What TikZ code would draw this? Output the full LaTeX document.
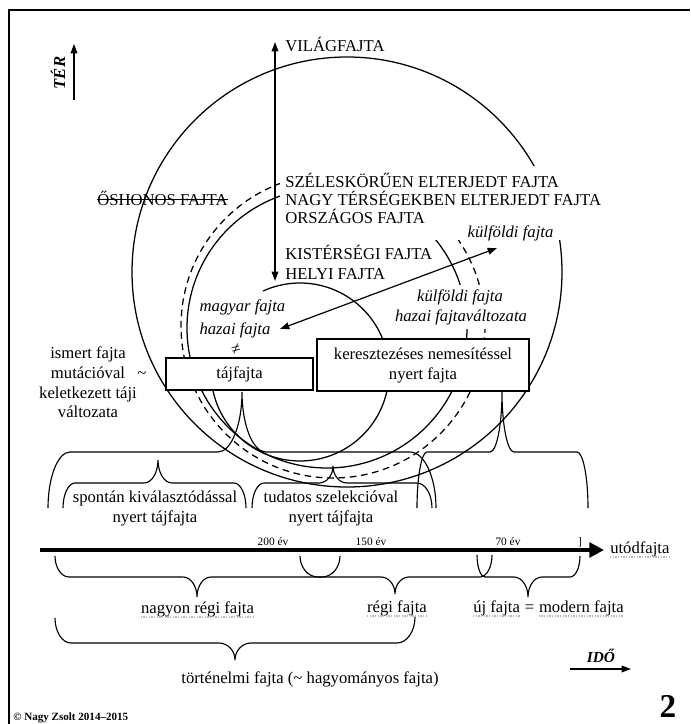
\documentclass[tikz,border=0pt]{standalone}
\usepackage{fontspec}
\setmainfont{Liberation Serif}
\usetikzlibrary{arrows.meta}
\def\brtip{14}
\newcommand{\curlybr}[9]{%
 \draw[brc] (#1,#2) .. controls (#1,{#2-0.55*(#2-#3)}) and ({#1+0.45*#8},#3) .. ({#1+#8},#3)
 -- ({#4-\brtip},#3) .. controls ({#4-0.45*\brtip},#3) and (#4,{#5-0.55*(#5-#3)}) .. (#4,#5)
 .. controls (#4,{#5-0.55*(#5-#3)}) and ({#4+0.45*\brtip},#3) .. ({#4+\brtip},#3)
 -- ({#6-#9},#3) .. controls ({#6-0.45*#9},#3) and (#6,{#7-0.55*(#7-#3)}) .. (#6,#7);}
\begin{document}
\begin{tikzpicture}[x=0.75pt,y=-0.75pt,
 txt/.style={font=\fontsize{12.5}{15}\selectfont, inner sep=0pt},
 itx/.style={font=\fontsize{12.5}{15}\selectfont\itshape, inner sep=0pt},
 sml/.style={font=\fontsize{8.5}{10}\selectfont, inner sep=0pt},
 circ/.style={line width=0.95pt},
 brc/.style={line width=0.85pt},
 boxn/.style={draw, fill=white, line width=0.85pt, inner sep=0pt, align=center, font=\fontsize{12.5}{15}\selectfont},
 arr/.style={line width=0.9pt},
 spell/.style={gray!55, line width=0.9pt, dash pattern=on 1pt off 1pt}]
\useasboundingbox (0,0) rectangle (690,724);
% frame
\draw[line width=1.5pt] (9,724) -- (9,10.5) -- (690,10.5);
% circles
\draw[circ] (347,272) circle[radius=215];
\draw[circ, dash pattern=on 5pt off 3.5pt] (333,326) circle[radius=152];
\draw[circ] (327,328) circle[radius=140];
\draw[circ] (300,372) ++(-114.5:89) arc[start angle=-114.5, end angle=168, radius=89];
% upper text block
\fill[white] (280,166) rectangle (606,240);
\node[txt, anchor=base west] (vil) at (285,52) {VILÁGFAJTA};
\node[txt, anchor=base west] (szel) at (285,187) {SZÉLESKÖRŰEN ELTERJEDT FAJTA};
\node[txt, anchor=base west] (nagy) at (285,205) {NAGY TÉRSÉGEKBEN ELTERJEDT FAJTA};
\node[txt, anchor=base west] (orsz) at (285,223) {ORSZÁGOS FAJTA};
\node[txt, anchor=base west, fill=white] (kist) at (285,259) {KISTÉRSÉGI FAJTA};
\node[txt, anchor=base west, fill=white] (helyi) at (285,279) {HELYI FAJTA};
\node[txt, anchor=base west] (osh) at (97,205) {ŐSHONOS FAJTA};
\draw[line width=0.7pt] ([yshift=3.8pt]osh.base west) -- ([yshift=3.8pt]osh.base east);
% italic labels
\node[itx, anchor=base, fill=white, inner xsep=1pt, inner ysep=2pt] (kulf1) at (510.5,237) {külföldi fajta};
\node[itx, anchor=base, fill=white, inner xsep=1pt, inner ysep=3pt] (kulf2) at (460,301) {külföldi fajta};
\node[itx, anchor=base, fill=white, inner xsep=1pt, inner ysep=3pt] (hazv) at (461,321) {hazai fajtaváltozata};
\node[itx, anchor=base] (magy) at (242.5,311.5) {magyar fajta};
\node[itx, anchor=base] (haz) at (235,334) {hazai fajta};
\node[txt, rotate=15] (neq) at (236,350) {≠};
% boxes
\node[boxn, minimum width=110.25pt, minimum height=24pt] (taj) at (239.5,374) {tájfajta};
\node[boxn, minimum width=159pt, minimum height=39pt] (ker) at (423,365) {keresztezéses nemesítéssel\\nyert fajta};
% left labels
\node[txt, anchor=base] (ism1) at (88,358) {ismert fajta};
\node[txt, anchor=base] (ism2) at (88,378) {mutációval};
\node[txt, anchor=base] (ism3) at (88,398) {keletkezett táji};
\node[txt, anchor=base] (ism4) at (88,417) {változata};
\node[txt, anchor=base] (tilde) at (142,378) {\textasciitilde};
% arrows
\coordinate (vT) at (275,42); \coordinate (vB) at (275,281);
\draw[arr, {Triangle[length=7pt,width=5pt]}-{Triangle[length=7pt,width=5pt]}] (vB) -- (vT);
\coordinate (dA) at (280,329); \coordinate (dB) at (497,248);
\draw[arr, {Triangle[length=7pt,width=5pt]}-{Triangle[length=7pt,width=5pt]}] (dA) -- (dB);
\node[font=\fontsize{12.5}{14}\selectfont\bfseries\itshape, rotate=90, inner sep=0pt] (ter) at (58,73) {TÉR};
\coordinate (terA) at (74,100); \coordinate (terB) at (74,44);
\draw[arr, -{Triangle[length=7pt,width=5pt]}] (terA) -- (terB);
% braces above timeline
\def\brtip{24}
\curlybr{48}{508}{452}{242}{392}{436}{508}{22}{26}
\def\brtip{12}
\curlybr{417}{508}{452}{502}{392}{588}{508}{10}{11}
\def\brtip{14}
\curlybr{63}{508}{483}{158}{460}{246}{508}{12}{12}
\curlybr{252}{508}{483}{333}{466}{432}{508}{12}{15}
% labels above timeline
\node[txt, anchor=base] (sp1) at (155,502) {spontán kiválasztódással};
\node[txt, anchor=base] (sp2) at (155,522) {nyert tájfajta};
\node[txt, anchor=base] (tu1) at (331,502) {tudatos szelekcióval};
\node[txt, anchor=base] (tu2) at (331,522) {nyert tájfajta};
% timeline
\coordinate (t0) at (40,550); \coordinate (t1) at (604,550);
\draw[line width=3.3pt, -{Triangle[length=11pt,width=11pt]}] (t0) -- (t1);
\node[sml, anchor=base] (y200) at (273,545) {200 év};
\node[sml, anchor=base] (y150) at (371,545) {150 év};
\node[sml, anchor=base] (y70) at (508,545) {70 év};
\node[sml, anchor=base] (brk) at (580,545) {]};
\node[txt, anchor=base west] (utod) at (610,553) {utódfajta};
\draw[spell] ([yshift=-3pt]utod.base west) -- ([yshift=-3pt]utod.base east);
% braces below timeline
\def\brtip{14}
\curlybr{55}{556}{577}{197}{597}{340}{556}{14}{18}
\curlybr{300}{556}{577}{395}{594}{492}{555}{18}{12}
\curlybr{477}{555}{577}{528}{597}{580}{556}{8}{10}
\def\brtip{16}
\curlybr{55}{618}{643}{235}{660}{415}{617}{16}{18}
% labels below
\node[txt, anchor=base] (nrf) at (197.5,613) {nagyon régi fajta};
\draw[spell] ([yshift=-3pt]nrf.base west) -- ([yshift=-3pt]nrf.base east);
\node[txt, anchor=base] (rf) at (397,612) {régi fajta};
\draw[spell] ([yshift=-3pt]rf.base west) -- ([yshift=-3pt]rf.base east);
\node[txt, anchor=base west] (uj) at (473,612) {új fajta};
\node[txt, anchor=base west] (eq) at (uj.base east) {\kern3.2pt=\kern3.2pt};
\node[txt, anchor=base west] (mod) at (eq.base east) {modern fajta};
\draw[spell] ([yshift=-3pt]uj.base west) -- ([yshift=-3pt]uj.base east);
\draw[spell] ([yshift=-3pt]mod.base west) -- ([yshift=-3pt]mod.base east);
\node[txt, anchor=base] (tort) at (310,683) {történelmi fajta (\textasciitilde{} hagyományos fajta)};
% corner items
\node[font=\fontsize{11.5}{14}\selectfont\bfseries\itshape, anchor=base, inner sep=0pt] (ido) at (601,662) {IDŐ};
\coordinate (idoA) at (570,669); \coordinate (idoB) at (631,669);
\draw[arr, -{Triangle[length=7pt,width=5pt]}] (idoA) -- (idoB);
\node[font=\fontsize{25}{28}\selectfont\bfseries, anchor=base, inner sep=0pt] (num) at (668,717) {2};
\node[font=\fontsize{8.3}{10}\selectfont\bfseries, anchor=base west, inner sep=0pt] (copy) at (13,720) {© Nagy Zsolt 2014–2015};
\end{tikzpicture}
\end{document}
